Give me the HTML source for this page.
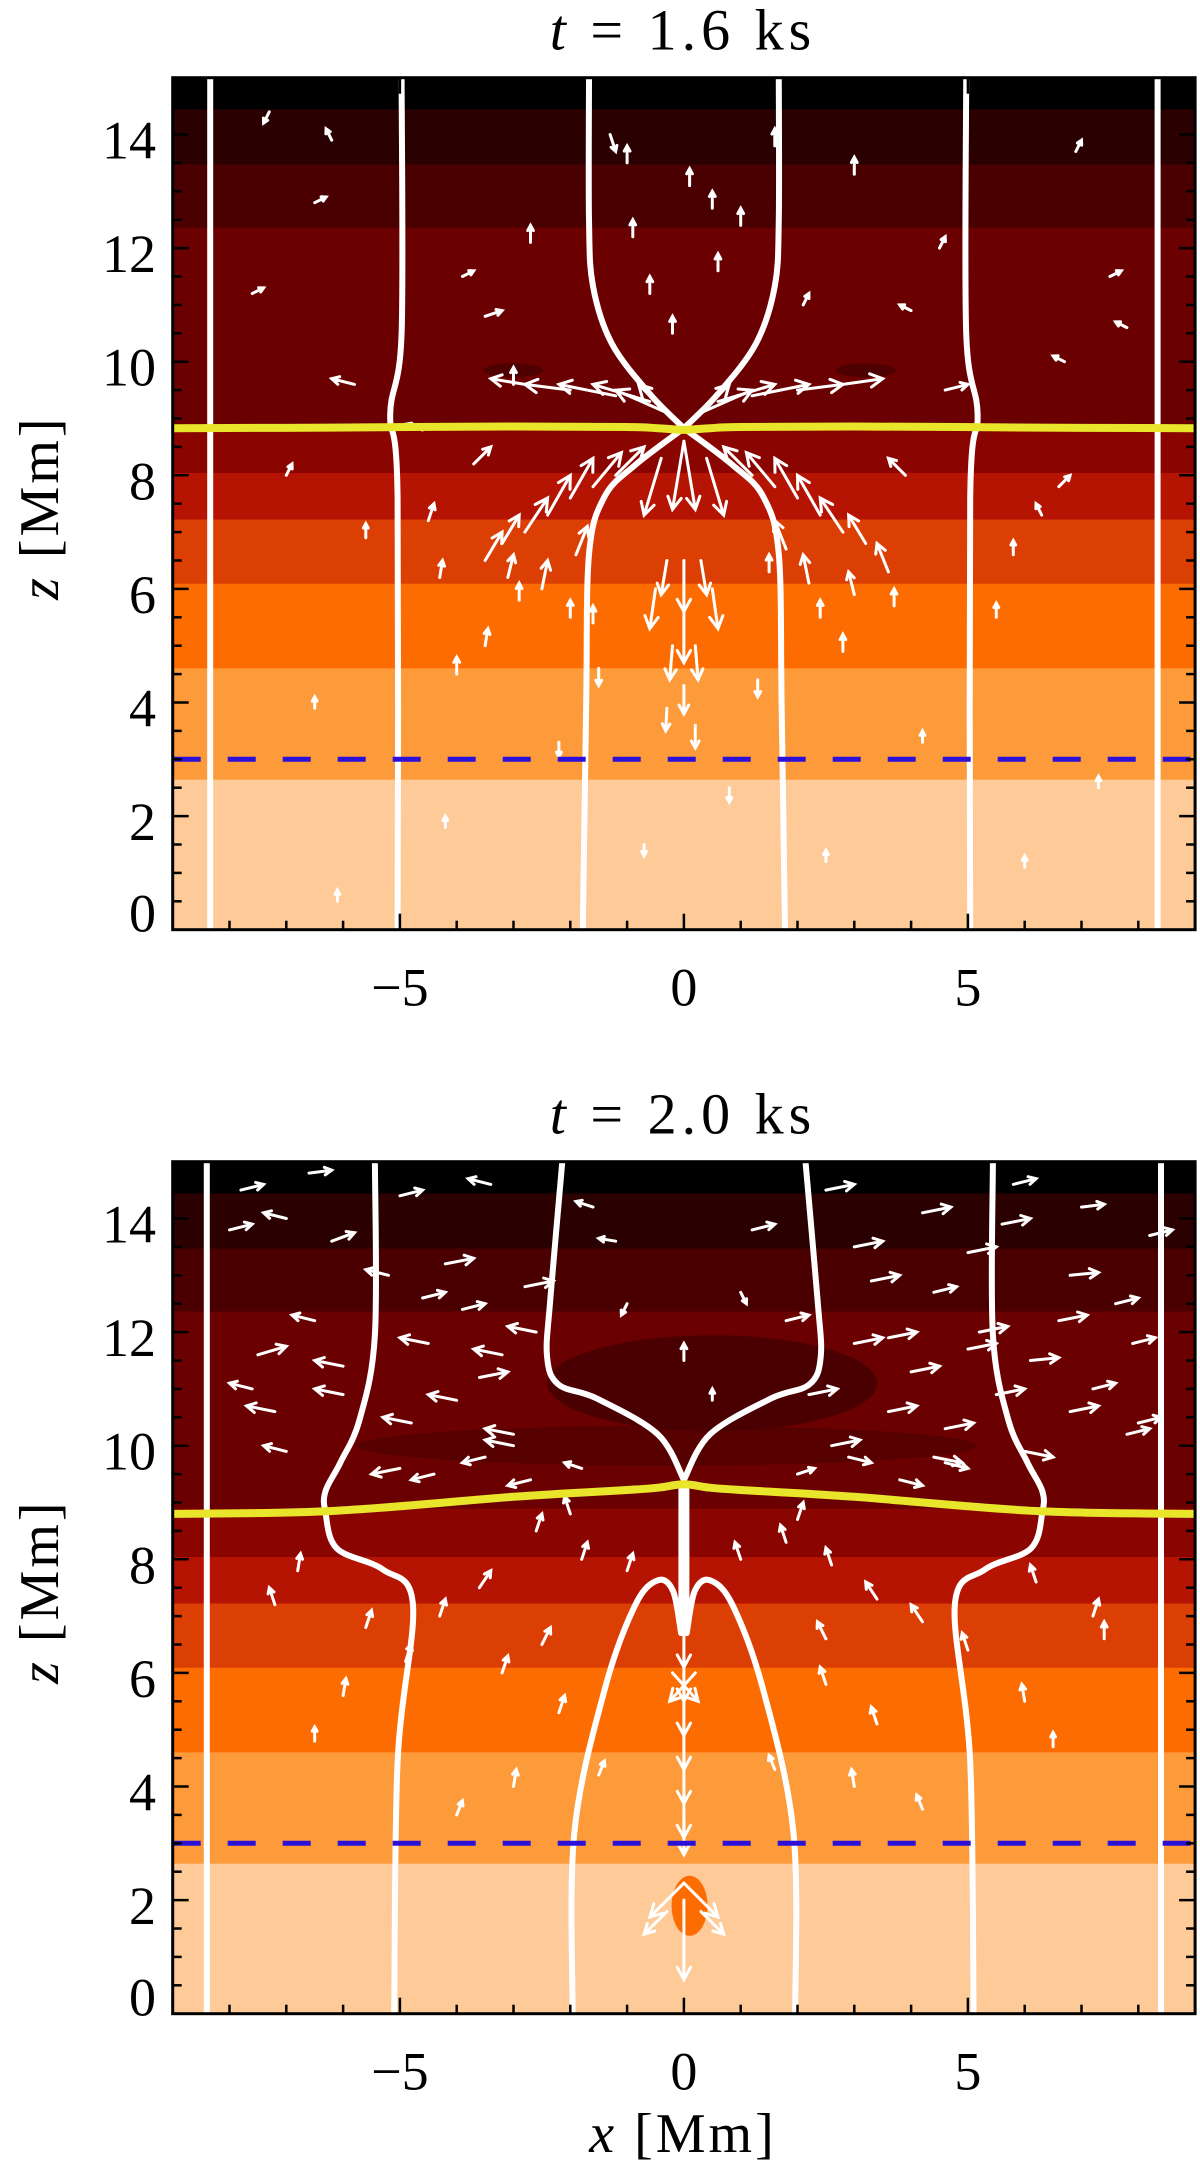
<!DOCTYPE html>
<html><head><meta charset="utf-8"><style>
html,body{margin:0;padding:0;background:#fff;}
svg{display:block;}
text{font-family:"Liberation Serif",serif;fill:#000;}
</style></head><body>
<svg id="fig" width="1200" height="2165" viewBox="0 0 1200 2165" xmlns="http://www.w3.org/2000/svg">
<defs>
<clipPath id="clip1"><rect x="172.7" y="77.7" width="1022.4" height="852"/></clipPath>
<clipPath id="clip2"><rect x="172.7" y="1161.7" width="1022.4" height="852"/></clipPath>
</defs>
</svg>
<script>
// ---------- DATA ----------
const xRange = [-9, 9];
const zRange = [0, 15];
const xTicks = [-5, 0, 5];
const zTicks = [0, 2, 4, 6, 8, 10, 12, 14];
const titles = ["1.6", "2.0"];
const bandBottoms = [0, 2.65, 4.61, 6.10, 7.23, 8.05, 8.9, 12.37, 13.48, 14.45];
const bandColors = ["#fdca98", "#fd9a3a", "#fd6c00", "#dc3f04", "#b51403", "#8a0400", "#6b0000", "#4a0000", "#2a0000", "#000000"];
const dashedZ = 3.0;
const p1OuterX = [-8.34, -8.34], p1OuterZ = [0, 15];
const p1MidX = [-5.04, -5.04, -5.17, -4.97, -4.97], p1MidZ = [0, 7.6, 9.08, 10.5, 15];
const p1LowX = [-1.78, -1.72, -1.67, -1.40, -0.86, 0], p1LowZ = [0, 4.0, 6.61, 7.62, 8.18, 8.83];
const p1UpX = [0, -0.59, -1.27, -1.60, -1.67, -1.67], p1UpZ = [8.83, 9.42, 10.32, 11.33, 12.5, 15];
const p2OuterX = [-8.4, -8.4], p2OuterZ = [0, 15];
const p2MidX = [-5.10, -5.04, -4.77, -5.30, -6.11, -6.31, -6.31, -6.05, -5.71, -5.44, -5.44];
const p2MidZ = [0, 4.44, 7.19, 7.82, 8.19, 8.82, 9.20, 9.70, 10.46, 11.95, 15];
const p2LowX = [-1.96, -1.93, -1.40, -0.86, -0.46, -0.19, -0.05], p2LowZ = [0, 3.18, 5.69, 7.19, 7.63, 7.44, 6.7];
const p2UpX = [0, -0.46, -1.53, -2.21, -2.41, -2.35, -2.14], p2UpZ = [9.4, 10.2, 10.83, 11.08, 11.58, 12.6, 15];
const yelX = [-9, -6.2, -3, -1, -0.46, 0, 0.46, 1, 3, 6.2, 9];
const yel1Z = [8.83, 8.84, 8.86, 8.85, 8.83, 8.80, 8.83, 8.85, 8.86, 8.84, 8.83];
const yel2Z = [8.80, 8.85, 9.10, 9.22, 9.26, 9.32, 9.26, 9.22, 9.10, 8.85, 8.80];
// arrows panel 1: x, z, u, w
const a1X = [-0.3,-0.6,-1.2,-2.0,-2.8,0.3,0.6,1.2,2.0,2.8,-0.2,0.2,-2.8,-2.4,-2.0,-1.6,-1.2,-3.2,-3.5,2.8,2.4,2.0,1.6,1.2,3.2,3.6,-0.3,0,0.3,-0.5,0.5,0,-0.2,0.2,0,-0.3,0.2,0,0,-0.4,0.4,-2,-1.6,-2.9,-3.5,2.4,3.7,-4.3,-4.0,1.5,2.8,-1,0.1,0.5,-0.6,-0.2,0.6,-1.3,1.6,-7.3,-6.5,3,4.5,6.7,7.5,-3.5,-3.0,-4.6,-7.0,6.6,5.5,-6.5,4.2,-2.2,0.8,-0.7,2.5,-4.2,6,-6.1,7.3,-5.8,4.6,-3.7,3.9,-2.5,-3.1,-1.9,2.2,3.0,1.8,-4.5,-5.6,5.8,6.3,-7.6,7.8,-2.7,-0.9,1.0,2.1,-6.2,6.9,-3.9,4.0,-1.5,1.3];
const a1Z = [9.1,9.3,9.4,9.5,9.6,9.1,9.3,9.4,9.5,9.6,9.0,9.0,7.0,7.3,7.6,7.8,8.0,6.8,6.5,7.0,7.3,7.6,7.8,8.0,6.8,6.3,6.5,6.5,6.5,6.0,6.0,5.6,5.0,5.0,4.3,3.9,3.6,8.6,8.6,8.3,8.3,5.5,5.4,5.8,5.0,5.5,5.7,6.2,4.5,6.3,4.9,13.5,13.1,12.7,11.2,10.5,11.6,14.0,13.8,14.4,12.8,13.3,12,10,11.5,10.8,9.6,8.8,8.0,7.8,5.5,3.9,3.3,3.3,2.5,1.5,1.2,1.8,1.1,0.5,2.5,9.6,9.5,8.2,8.0,6.0,6.2,6.6,6.1,5.9,6.7,7.2,6.9,6.6,7.3,11.2,10.6,12.1,12.2,12.4,11.0,13.9,13.7,11.5,10.9,4.6,4.4];
const a1U = [-0.9,-1.0,-1.0,-0.8,-0.6,0.9,1.0,1.0,0.8,0.7,-0.6,0.6,0.4,0.4,0.4,0.5,0.5,0.3,0.3,-0.4,-0.4,-0.4,-0.5,-0.5,-0.3,-0.2,-0.1,0,0.1,-0.1,0.1,0,-0.05,0.05,0,-0.02,0,-0.2,0.2,-0.3,0.3,0,0,0,0.05,0,0,0.05,0,0,0,0,0,0,0,0,0,0.1,0,-0.1,0.2,0,0.1,-0.2,0.2,0.3,0,-0.3,0.1,0.2,0,0,0,0,0,0,0,0,0,0,0,-0.4,0.4,0.3,-0.3,0.1,0.1,0.2,-0.1,-0.1,-0.2,0.1,0,0,-0.1,0.2,-0.2,0,0,0,0.1,-0.1,0.1,0.2,-0.2,0,0];
const a1W = [0.4,0.3,0.2,0.1,0.1,0.4,0.3,0.2,0.1,0.1,0.6,0.6,0.6,0.7,0.7,0.6,0.5,0.5,0.5,0.6,0.7,0.7,0.6,0.5,0.5,0.5,-0.6,-0.9,-0.6,-0.7,-0.7,-0.9,-0.6,-0.6,-0.5,-0.4,-0.4,-1.2,-1.2,-1.0,-1.0,0.3,0.3,0.3,0.3,0.3,0.3,0.3,0.3,0.3,0.3,0.3,0.3,0.3,0.3,0.3,0.3,-0.3,0.3,-0.2,0.1,0.3,0.2,0.1,0.1,0.1,0.3,0.1,0.2,0.2,0.25,0.2,0.2,-0.25,-0.25,-0.2,0.2,0.2,0.2,0.2,0.2,0.1,0.1,0.3,0.3,0.5,0.4,0.5,0.5,0.4,0.5,0.3,0.25,0.25,0.2,0.1,0.1,0.3,0.3,0.3,0.2,0.2,0.2,0.1,0.1,-0.3,-0.3];
// arrows panel 2
const a2X = [-7.8,-7.0,-6.2,-5.0,-4.2,-3.4,-2.8,-1.2,1.2,2.5,3.3,4.2,5.0,5.8,6.8,7.6,-7.5,-6.5,-4.5,-3.6,-2.6,3.0,4.0,5.2,6.1,7.2,-7.2,-6.0,-4.8,-4.0,-3.0,3.6,4.6,5.5,6.8,7.8,-4.4,-3.5,-2.7,-1.8,2.0,2.9,3.8,4.6,-2.6,-1.8,-3.6,-4.3,1.8,2.6,3.4,4.2,-6.8,-5.6,6.2,7.4,0,0,0,0,0,0,0,-0.2,0.2,0,0,0,-0.3,0.3,0,-3.2,-2.2,2.5,3.4,-6.5,6.5,-1.5,1.6,-4.0,4.2,-1.0,1.0,0,0.5,-8.0,-6.6,-5.2,-3.9,-1.6,1.8,3.0,4.4,5.6,7.0,8.2,-7.6,-6.0,-4.6,-3.2,2.2,3.6,5.0,6.6,7.9,-7.0,-5.0,-3.0,2.6,4.4,6.0,8.0,-2.0,-1.0,1.0,2.0,-2.5,2.5,-4.9,5.0,-7.2,7.2,-6.0,6.0,-3.0,3.0];
const a2Z = [14.5,14.0,13.6,14.4,13.2,14.6,12.8,13.6,13.8,14.5,12.9,14.1,13.4,14.6,13.0,12.5,11.6,12.2,11.8,11.2,12.0,11.8,11.3,12.0,11.5,11.0,10.6,10.9,10.4,10.8,10.2,10.6,10.3,10.9,10.6,10.2,9.5,9.8,9.4,9.6,9.5,9.8,9.4,9.7,8.5,8.0,7.5,7.0,8.3,7.9,7.3,6.9,7.8,6.8,7.6,6.6,6.9,6.3,5.7,5.1,4.5,3.9,3.4,6.0,6.0,2.3,2.3,2.0,1.8,1.8,8.6,6.0,5.3,5.8,5.1,4.8,4.7,4.2,4.3,3.5,3.6,12.5,12.7,11.5,10.8,13.8,14.8,13.0,12.4,14.2,12.2,13.5,12.7,13.9,14.2,13.7,11.0,11.4,12.6,11.6,10.9,11.9,11.7,12.2,11.8,9.9,9.6,10.0,10.0,9.8,9.9,10.4,8.8,7.8,8.0,8.7,6.5,6.6,6.2,6.4,7.2,7.0,5.6,5.5,4.0,4.0];
const a2U = [0.4,-0.4,0.4,0.4,0.5,-0.4,0.5,-0.3,0.4,0.5,0.5,0.5,0.5,0.4,0.5,0.4,0.5,-0.4,-0.5,0.5,-0.5,0.5,0.5,0.5,0.5,0.4,-0.5,-0.5,-0.5,-0.5,-0.5,0.5,0.5,0.5,0.5,0.4,-0.4,-0.4,-0.4,-0.3,0.3,0.4,0.4,0.4,0.1,0.1,0.2,0.1,-0.1,-0.1,-0.2,-0.2,0.05,0.1,-0.1,0,0,0,0,0,0,0,0,0.45,-0.45,-0.6,0.6,0,-0.4,0.4,0,0.1,0.1,-0.1,-0.1,0,0,0.1,-0.1,0.1,-0.1,-0.1,0.1,0,0,0.4,0.4,-0.4,0.4,-0.3,0.4,0.5,0.4,0.5,0.4,0.4,-0.4,-0.5,0.4,-0.5,0.5,0.5,0.5,0.5,0.4,-0.4,-0.5,-0.5,0.5,0.5,0.5,0.4,-0.1,0.1,-0.1,0.1,0.15,-0.15,0.1,-0.1,-0.1,0.1,0.05,-0.05,0.05,-0.05];
const a2W = [0.1,0.1,0.15,0.1,0.1,0.1,0.1,0.05,0.1,0.1,0.1,0.1,0.1,0.1,0.05,0.1,0.15,0.1,0.1,0.1,0.1,0.1,0.1,0.1,0.05,0.1,0.1,0.1,0.1,0.1,0.1,0.1,0.1,0.1,0.1,0.1,-0.1,-0.1,-0.1,0.1,0.1,-0.1,-0.1,-0.1,0.3,0.3,0.3,0.3,0.3,0.3,0.3,0.3,0.3,0.3,0.3,0.3,-0.8,-0.8,-0.8,-0.8,-0.8,-0.8,-0.6,-0.5,-0.5,-0.6,-0.6,-1.4,-0.4,-0.4,0.3,0.3,0.3,0.3,0.3,0.25,0.25,0.25,0.25,0.25,0.25,-0.2,-0.2,0.3,0.2,0.1,0.05,0.1,0.1,0.1,0.1,0.1,0.1,0.1,0.05,0.1,0.1,0.1,0.1,0.1,0.1,0.1,0.1,0.1,0.1,0.1,-0.1,0.1,0.1,-0.1,-0.1,0.1,0.3,0.3,0.3,0.3,0.3,0.3,0.3,0.3,0.3,0.3,0.3,0.3,0.3,0.3];

// ---------- DRAW ----------
const NS = "http://www.w3.org/2000/svg";
const svg = document.getElementById("fig");
const L = 172.7, W = 1022.4, H = 852;
const panelTops = [77.7, 1161.7];
function px(x){ return L + (x - xRange[0]) / (xRange[1] - xRange[0]) * W; }
function pz(z, top){ return top + (zRange[1] - z) / (zRange[1] - zRange[0]) * H; }
function mk(tag, attrs, parent){
  const e = document.createElementNS(NS, tag);
  for (const k in attrs) e.setAttribute(k, attrs[k]);
  parent.appendChild(e); return e;
}
function smoothPath(xs, zs, top, mirror){
  const p = xs.map((x,i)=>[px(mirror? -x : x), pz(zs[i], top)]);
  let d = "M" + p[0][0].toFixed(1) + " " + p[0][1].toFixed(1);
  for (let i=0;i<p.length-1;i++){
    const p0 = p[i-1]||p[i], p1=p[i], p2=p[i+1], p3=p[i+2]||p[i+1];
    const c1 = [p1[0]+(p2[0]-p0[0])/6, p1[1]+(p2[1]-p0[1])/6];
    const c2 = [p2[0]-(p3[0]-p1[0])/6, p2[1]-(p3[1]-p1[1])/6];
    d += " C"+c1[0].toFixed(1)+" "+c1[1].toFixed(1)+" "+c2[0].toFixed(1)+" "+c2[1].toFixed(1)+" "+p2[0].toFixed(1)+" "+p2[1].toFixed(1);
  }
  return d;
}
function drawPanel(idx, lines, yelZ, ax, az, au, aw){
  const top = panelTops[idx];
  const g = mk("g", {"clip-path":"url(#clip"+(idx+1)+")"}, svg);
  
  
  for (let i=0;i<bandBottoms.length;i++){
    const zb = bandBottoms[i], zt = i+1<bandBottoms.length ? bandBottoms[i+1] : zRange[1];
    const r = mk("rect", {x:L, y:pz(zt,top), width:W, height:pz(zb,top)-pz(zt,top)+0.5, fill:bandColors[i]}, g);
    
    
  }
  if (idx===0){
    [[-3,9.85],[3.2,9.85]].forEach(c=>{
      const e = mk("ellipse",{cx:px(c[0]),cy:pz(c[1],top),rx:30,ry:7,fill:"#4e0000"},g);
      
      
    });
  } else {
    [[-0.3,10.0,310,20,"#560000"],[0.5,11.1,165,48,"#4a0000"],[0.1,1.9,18,30,"#fd6c00"]].forEach(c=>{
      const e = mk("ellipse",{cx:px(c[0]),cy:pz(c[1],top),rx:c[2],ry:c[3],fill:c[4]},g);
      
      
    });
  }
  lines.forEach(l=>{
    [false,true].forEach(m=>{
      const p = mk("path",{d:smoothPath(l[0],l[1],top,m),fill:"none",stroke:"#fff","stroke-width":6,"stroke-linecap":"round"},g);
      
      
    });
  });
  if (idx===1){
    const c = mk("line",{x1:px(0),y1:pz(9.3,top),x2:px(0),y2:pz(6.7,top),stroke:"#fff","stroke-width":11},g);
    
    
  }
  const ag = mk("g",{stroke:"#fff","stroke-width":3,"stroke-linecap":"round",fill:"none"},g);
  
  
  for (let i=0;i<ax.length;i++){
    const x1=px(ax[i]), y1=pz(az[i],top), x2=px(ax[i]+au[i]), y2=pz(az[i]+aw[i],top);
    const len=Math.hypot(x2-x1,y2-y1), ang=Math.atan2(y2-y1,x2-x1);
    const hl=Math.max(5,Math.min(14,len*0.35));
    const d="M"+x1.toFixed(1)+" "+y1.toFixed(1)+" L"+x2.toFixed(1)+" "+y2.toFixed(1)+
      " M"+(x2-hl*Math.cos(ang-0.5)).toFixed(1)+" "+(y2-hl*Math.sin(ang-0.5)).toFixed(1)+" L"+x2.toFixed(1)+" "+y2.toFixed(1)+
      " L"+(x2-hl*Math.cos(ang+0.5)).toFixed(1)+" "+(y2-hl*Math.sin(ang+0.5)).toFixed(1);
    const a = mk("path",{d:d},ag);
    
    
  }
  const yp = mk("path",{d:smoothPath(yelX,yelZ,top,false),fill:"none",stroke:"#e8e52a","stroke-width":8},g);
  
  
  const dl = mk("line",{x1:L,x2:L+W,y1:pz(dashedZ,top),y2:pz(dashedZ,top),stroke:"#2a10d8","stroke-width":5,"stroke-dasharray":"28 27"},g);
  
  
  const fr = mk("rect",{x:L,y:top,width:W,height:H,fill:"none",stroke:"#000","stroke-width":3},svg);
  
  
  const tg = mk("g",{stroke:"#000","stroke-width":2.5},svg);
  
  
  for (let x=-8;x<=8;x++){
    const l = xTicks.includes(x)?16:9;
    mk("line",{x1:px(x),x2:px(x),y1:top+H,y2:top+H-l},tg);
    mk("line",{x1:px(x),x2:px(x),y1:top,y2:top+l},tg);
  }
  for (let k=1;k<30;k++){
    const z=k/2, l = zTicks.includes(z)?16:9;
    mk("line",{x1:L,x2:L+l,y1:pz(z,top),y2:pz(z,top)},tg);
    mk("line",{x1:L+W,x2:L+W-l,y1:pz(z,top),y2:pz(z,top)},tg);
  }
  zTicks.forEach(z=>{
    const t = mk("text",{x:156,y:pz(z,top)+(z===0?2:24),"font-size":54,"text-anchor":"end"},svg);
    t.textContent = String(z);
    
    
  });
  xTicks.forEach(x=>{
    const t = mk("text",{x:px(x),y:top+H+76,"font-size":54,"text-anchor":"middle"},svg);
    t.textContent = x<0 ? "\u2212"+Math.abs(x) : String(x);
    
    
  });
  const tt = mk("text",{x:683,y:top-28,"font-size":58,"text-anchor":"middle","letter-spacing":"5","xml:space":"preserve"},svg);
  tt.innerHTML = '<tspan font-style="italic">t</tspan>  =  '+titles[idx]+'  ks';
  
  
  const yl = mk("text",{x:0,y:0,"font-size":56,"text-anchor":"middle","letter-spacing":"3",transform:"translate(58,"+(top+430)+") rotate(-90)"},svg);
  yl.innerHTML = '<tspan font-style="italic">z</tspan> [Mm]';
  
  
}
drawPanel(0, [[p1OuterX,p1OuterZ],[p1MidX,p1MidZ],[p1LowX,p1LowZ],[p1UpX,p1UpZ]], yel1Z, a1X, a1Z, a1U, a1W);
drawPanel(1, [[p2OuterX,p2OuterZ],[p2MidX,p2MidZ],[p2LowX,p2LowZ],[p2UpX,p2UpZ]], yel2Z, a2X, a2Z, a2U, a2W);
const xl = mk("text",{x:683,y:2152,"font-size":56,"text-anchor":"middle","letter-spacing":"3"},svg);
xl.innerHTML = '<tspan font-style="italic">x</tspan> [Mm]';


</script>
</body></html>
